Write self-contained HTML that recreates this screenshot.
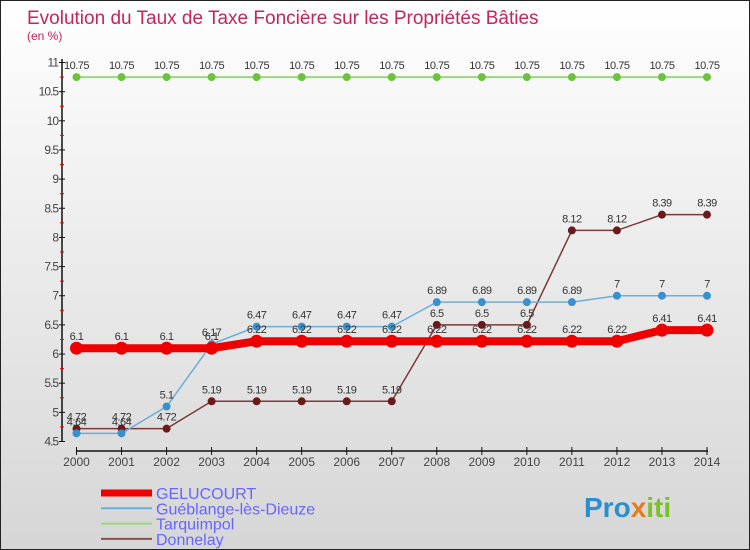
<!DOCTYPE html>
<html><head><meta charset="utf-8"><style>
body{margin:0}
#c{width:750px;height:550px;position:relative;overflow:hidden;box-sizing:border-box;border:1px solid #222;background:linear-gradient(#ffffff,#f2f2f2 30%,#d6d6d6);font-family:"Liberation Sans",sans-serif}
</style></head><body>
<div id="c">
<svg width="750" height="550" id="svg">
<text x="26" y="23" font-size="19" fill="#c8245a">Evolution du Taux de Taxe Foncière sur les Propriétés Bâties</text>
<text x="26" y="39" font-size="12" fill="#c8245a">(en %)</text>
<g id="axes"></g><g id="series"></g><g id="legend"></g>
<text x="583" y="516" font-size="28" font-weight="bold" fill="#2a8fd0">Pro<tspan fill="#e57a1e">x</tspan><tspan fill="#7bbf2a">iti</tspan></text>
</svg>
</div>
<script>
const years=[2000,2001,2002,2003,2004,2005,2006,2007,2008,2009,2010,2011,2012,2013,2014];
const gelucourt=[6.1,6.1,6.1,6.1,6.22,6.22,6.22,6.22,6.22,6.22,6.22,6.22,6.22,6.41,6.41];
const gueblange=[4.64,4.64,5.1,6.17,6.47,6.47,6.47,6.47,6.89,6.89,6.89,6.89,7,7,7];
const tarquimpol=[10.75,10.75,10.75,10.75,10.75,10.75,10.75,10.75,10.75,10.75,10.75,10.75,10.75,10.75,10.75];
const donnelay=[4.72,4.72,4.72,5.19,5.19,5.19,5.19,5.19,6.5,6.5,6.5,8.12,8.12,8.39,8.39];
const yTicks=[4.5,5,5.5,6,6.5,7,7.5,8,8.5,9,9.5,10,10.5,11];
const NS="http://www.w3.org/2000/svg";
const X=i=>75.5+i*(706-75.5)/14;
const Y=v=>440.5-(v-4.5)*(440.5-61.5)/6.5;
function mk(t,a,p){const e=document.createElementNS(NS,t);for(const k in a)e.setAttribute(k,a[k]);p.appendChild(e);return e;}
const ax=document.getElementById('axes');
let l=mk('line',{x1:61,y1:58,x2:61,y2:441,stroke:'#111','stroke-width':1.5},ax);


l=mk('line',{x1:75,y1:450,x2:707,y2:450,stroke:'#111','stroke-width':1.5},ax);


yTicks.forEach(v=>{
 mk('line',{x1:58,y1:Y(v),x2:64,y2:Y(v),stroke:'#111'},ax);
 if(v<11)mk('line',{x1:59,y1:Y(v+0.25),x2:63,y2:Y(v+0.25),stroke:'#e00'},ax);
 const t=mk('text',{x:57,y:Y(v)+4,'font-size':12,'text-anchor':'end',fill:'#444','letter-spacing':'-1'},ax);
 t.textContent=v;
 
 
});
years.forEach((yr,i)=>{
 mk('line',{x1:X(i),y1:446,x2:X(i),y2:454,stroke:'#111'},ax);
 const t=mk('text',{x:X(i),y:465,'font-size':12,'text-anchor':'middle',fill:'#444'},ax);
 t.textContent=yr;
 
 
});
const S=document.getElementById('series');
const defs=[
 [tarquimpol,'#99d97a',2,'#6cc23a',4,'tarquimpol'],
 [donnelay,'#7a3a3a',1.5,'#6a1a1a',4,'donnelay'],
 [gueblange,'#6aaedc',1.5,'#3a90cc',4,'gueblange'],
 [gelucourt,'#ee0000',8,'#ee0000',6.5,'gelucourt']];
defs.forEach(([d,c,w,mc,r,n])=>{
 const g=mk('g',{},S);
 
 
 const p=mk('polyline',{points:d.map((v,i)=>X(i)+','+Y(v)).join(' '),fill:'none',stroke:c,'stroke-width':w},g);
 
 
 d.forEach((v,i)=>{
  const ci=mk('circle',{cx:X(i),cy:Y(v),r:r,fill:mc},g);
  
  
  const t=mk('text',{x:X(i),y:Y(v)-8,'font-size':11,'text-anchor':'middle',fill:'#333','letter-spacing':'-0.5'},g);
  t.textContent=v;
  
  
 });
});
const L=document.getElementById('legend');
[['GELUCOURT','#ee0000',7],['Guéblange-lès-Dieuze','#6aaedc',2],['Tarquimpol','#99d97a',2],['Donnelay','#8a5050',2]].forEach(([n,c,w],i)=>{
 const y=492+i*15.3;
 const g=mk('g',{},L);
 
 
 mk('line',{x1:100,y1:y,x2:151,y2:y,stroke:c,'stroke-width':w},g);
 const t=mk('text',{x:155,y:y+6,'font-size':16,fill:'#6666ff'},g);
 t.textContent=n;
});
</script>
</body></html>
